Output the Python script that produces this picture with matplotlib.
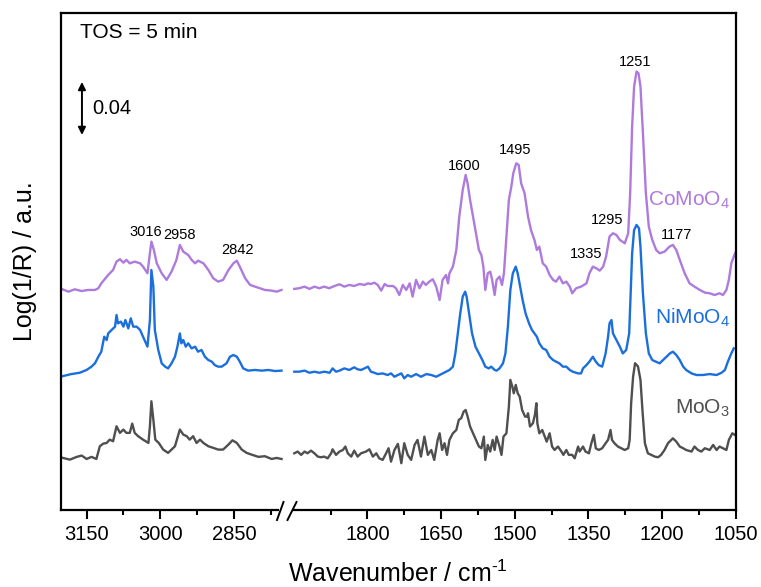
import numpy as np
import matplotlib.pyplot as plt
from matplotlib.lines import Line2D
from matplotlib.patches import Rectangle

plt.rcParams['font.family'] = ['Liberation Sans', 'DejaVu Sans']
plt.rcParams['mathtext.fontset'] = 'custom'
plt.rcParams['mathtext.rm'] = 'Liberation Sans'
plt.rcParams['mathtext.it'] = 'Liberation Sans:italic'
plt.rcParams['mathtext.default'] = 'regular'

# ---- spectra, wavenumber (cm-1) and signal above each baseline (1e-3 a.u.)
co_l_w = [3201, 3187, 3174, 3160, 3147, 3133, 3126, 3120, 3106, 3096, 3089, 3082, 3075, 3069, 3062,
          3052, 3041, 3035, 3026, 3021, 3018, 3013, 3007, 2997, 2987, 2977, 2967, 2960, 2953, 2943,
          2936, 2929, 2923, 2912, 2902, 2892, 2882, 2872, 2861, 2851, 2844, 2838, 2827, 2817, 2807,
          2797, 2787, 2773, 2763, 2753]
co_l_h = [0.8, -1.3, 0.5, -0.8, 0, 0, 1.3, 5.0, 11.3, 15.1, 21.4, 23.2, 20.6, 22.7, 20.1,
          21.4, 20.1, 17.6, 12.6, 27.7, 36.5, 30.2, 20.1, 12.6, 7.6, 13.8, 22.7, 34.0, 28.9, 26.4,
          22.7, 20.1, 22.1, 20.1, 15.1, 8.8, 6.3, 7.6, 15.1, 20.1, 22.1, 17.6, 8.8, 3.8, 2.5,
          1.3, 0, -0.5, -1.3, 0]
co_r_w = [1949, 1939, 1928, 1918, 1908, 1898, 1888, 1878, 1867, 1857, 1847, 1837, 1827, 1816, 1806,
          1799, 1793, 1786, 1779, 1772, 1765, 1759, 1748, 1742, 1735, 1728, 1721, 1714, 1708, 1701,
          1694, 1687, 1681, 1674, 1667, 1660, 1653,
          1647, 1640, 1636, 1633, 1626, 1619, 1613, 1606, 1600, 1596, 1591, 1585, 1579, 1573, 1568,
          1564, 1560, 1555, 1550, 1546, 1541, 1537, 1531, 1526, 1522, 1517, 1512, 1507, 1503, 1497,
          1492, 1487, 1480, 1473, 1467, 1460, 1455, 1450, 1443, 1436, 1429, 1422, 1416, 1409, 1402,
          1395, 1388, 1383, 1375, 1365, 1354,
          1348, 1341, 1334, 1327, 1320, 1314, 1307, 1300, 1293, 1286, 1276, 1269, 1265, 1261, 1257,
          1252, 1248, 1244, 1239, 1233, 1227, 1220, 1212, 1205, 1195, 1185, 1178, 1171, 1164, 1154,
          1144, 1134, 1123, 1113, 1103, 1093, 1083, 1076, 1069, 1064, 1059, 1054, 1051]
co_r_h = [0.8, 1.3, 2.5, 0.8, 2.5, 1.3, 2.5, 1.3, 3.0, 4.3, 2.5, 3.8, 3.0, 4.5, 3.8,
          5.0, 4.5, 5.5, 3.8, -0.5, 4.5, 3.0, 3.0, 1.3, -3.8, 3.8, 0, 5.0, -5.0, 7.6,
          1.3, 6.3, 3.8, 6.3, 8.1, 2.5, -7.6,
          7.6, 11.3, 5.0, 12.6, 17.6, 30.2, 55.4, 75.5, 86.8, 80.5, 68.0, 55.4, 42.8, 30.2, 26.4,
          17.6, 0, 12.6, 13.8, 7.6, -3.8, 7.6, 10.1, 3.8, 12.6, 40.3, 68.0, 78.0, 88.1, 95.6,
          94.4, 80.5, 73.0, 55.4, 45.3, 37.8, 30.2, 32.7, 20.1, 17.6, 11.3, 7.6, 6.3, 10.1, 5.0,
          6.3, 2.5, -2.5, 1.3, 2.5, 5.0,
          12.6, 17.6, 16.4, 14.6, 17.6, 25.2, 40.3, 42.8, 41.5, 37.8, 35.2, 42.8, 73.0, 123.3, 153.5,
          164.9, 163.6, 153.5, 118.3, 73.0, 47.8, 37.8, 30.2, 27.7, 28.9, 32.7, 34.0, 30.2, 22.7, 12.6,
          5.0, 2.5, 0, -2.0, -2.5, -3.8, -2.5, -3.8, 0, 7.6, 20.1, 25.2, 28.0]

ni_l_w = [3198, 3181, 3164, 3150, 3140, 3133, 3126, 3120, 3114, 3109, 3106, 3099, 3092, 3089, 3086,
          3080, 3075, 3071, 3065, 3060, 3055, 3048, 3041, 3035, 3026, 3021, 3018, 3014, 3011, 3004,
          2997, 2990, 2984, 2977, 2970, 2965, 2960, 2957, 2953, 2948, 2943, 2936, 2929, 2923, 2916,
          2909, 2902, 2895, 2889, 2882, 2875, 2865, 2858, 2851, 2844, 2838, 2831, 2821, 2807, 2793,
          2780, 2766, 2753]
ni_l_h = [-3.3, -1.8, -0.8, 1.3, 3.8, 6.3, 11.3, 15.1, 26.4, 23.9, 28.9, 31.5, 34.0, 42.8, 36.5,
          37.8, 34.0, 39.0, 32.7, 40.3, 34.0, 34.0, 31.5, 26.4, 18.9, 39.0, 76.8, 64.2, 31.5, 16.4,
          6.3, 3.8, 2.5, 6.3, 11.3, 18.9, 28.9, 21.4, 23.9, 18.9, 21.4, 17.6, 18.9, 15.1, 16.4,
          11.3, 8.8, 7.6, 5.0, 3.8, 3.8, 6.3, 11.3, 12.6, 11.3, 7.6, 2.5, 0.8, 1.3, 0.8,
          1.3, 0.5, 0.8]
ni_r_w = [1949, 1939, 1928, 1918, 1908, 1898, 1888, 1877, 1871, 1864, 1857, 1847, 1837, 1827, 1820,
          1813, 1806, 1799, 1793, 1786, 1779, 1769, 1759, 1752, 1745, 1738, 1731, 1725, 1718, 1711,
          1701, 1691, 1680, 1670, 1660,
          1653, 1647, 1640, 1633, 1626, 1621, 1616, 1611, 1606, 1601, 1598, 1592, 1587, 1580, 1573,
          1566, 1560, 1553, 1548, 1541, 1537, 1531, 1524, 1519, 1514, 1509, 1504, 1498, 1494, 1489,
          1484, 1478, 1471, 1465, 1460, 1455, 1450, 1443, 1436, 1429, 1422, 1416, 1409, 1402, 1395,
          1388, 1382, 1371, 1365,
          1361, 1354, 1348, 1341, 1335, 1329, 1322, 1315, 1310, 1307, 1303, 1300, 1293, 1286, 1280,
          1273, 1267, 1264, 1261, 1257, 1252, 1247, 1244, 1239, 1233, 1227, 1220, 1213, 1205, 1198,
          1191, 1184, 1178, 1171, 1164, 1157, 1151, 1140, 1130, 1117, 1103, 1089, 1079, 1072, 1066,
          1059, 1054]
ni_r_h = [0, 0, 0.8, -0.8, 0, -0.8, 0, -0.8, 2.5, 0, 0.8, 2.5, 1.3, 3.3, 1.8,
          1.3, 2.5, 3.8, 0, -0.8, -1.8, -1.3, -2.5, -1.3, -3.8, -2.5, -1.3, -5.0, -2.5, -3.8,
          -1.8, -3.8, -1.8, -2.5, -3.8,
          -2.5, -1.3, 0, 1.3, 3.8, 13.8, 28.9, 44.0, 56.6, 60.4, 56.6, 41.5, 28.9, 18.9, 13.8,
          8.8, 3.8, 2.5, 3.8, 1.3, 0.8, 2.5, 6.3, 13.8, 34.0, 61.6, 74.2, 79.3, 74.2, 64.2,
          54.1, 44.0, 36.5, 31.5, 28.9, 26.4, 21.4, 17.6, 16.4, 11.3, 8.8, 7.6, 6.3, 3.8, 3.8,
          1.3, 0, -1.3, -1.3,
          2.5, 5.0, 7.6, 11.3, 7.6, 5.0, 3.8, 13.8, 26.4, 36.5, 39.0, 28.9, 23.9, 18.9, 13.8,
          16.4, 28.9, 59.1, 89.3, 106.9, 110.8, 108.2, 94.4, 59.1, 28.9, 13.8, 8.8, 7.6, 6.3, 8.8,
          11.3, 13.8, 15.1, 12.6, 8.8, 3.8, 1.3, -1.3, -2.5, -2.5, -1.8, -2.5, -0.8, 1.3, 7.6,
          13.8, 17.6]

mo_l_w = [3198, 3184, 3170, 3160, 3150, 3140, 3130, 3123, 3116, 3109, 3103, 3096, 3089, 3082, 3075,
          3069, 3062, 3057, 3052, 3045, 3035, 3024, 3021, 3018, 3014, 3010, 3003, 2994, 2984, 2977,
          2970, 2960, 2953, 2946, 2940, 2933, 2926, 2919, 2912, 2902, 2892, 2882, 2872, 2861, 2853,
          2844, 2834, 2824, 2814, 2800, 2787, 2773, 2763, 2753]
mo_l_h = [0, -1.3, 0.8, 1.8, -0.8, 0.8, -0.8, 8.8, 10.8, 11.3, 13.8, 12.6, 23.9, 18.9, 21.4,
          18.9, 18.9, 25.9, 18.9, 16.4, 13.8, 11.3, 23.9, 42.8, 28.9, 13.8, 11.3, 6.3, 3.8, 6.3,
          8.8, 21.4, 17.6, 16.4, 13.8, 16.4, 11.3, 13.8, 11.3, 8.8, 7.6, 6.3, 6.3, 10.1, 13.3,
          11.3, 6.3, 3.8, 2.5, 0.8, 1.3, -0.8, 0, -0.8]
mo_r_w = [1949, 1942, 1935, 1928, 1922, 1915, 1908, 1901, 1895, 1888, 1881, 1874, 1871, 1864, 1857,
          1850, 1845, 1840, 1833, 1827, 1820, 1813, 1803, 1796, 1789, 1782, 1776, 1769, 1762, 1757,
          1752, 1745, 1738, 1731, 1725, 1718, 1711, 1704, 1698, 1691, 1684, 1677, 1670, 1664, 1657,
          1653, 1648, 1643, 1638, 1633, 1626, 1619, 1614, 1609, 1604, 1600, 1596, 1591, 1585, 1579,
          1573, 1568, 1563, 1560, 1555, 1550, 1545, 1541, 1537, 1531, 1527, 1523, 1517, 1512, 1509,
          1505, 1502, 1498, 1494, 1490, 1485, 1479, 1475, 1473, 1469, 1463, 1459, 1456, 1454, 1450,
          1444, 1439, 1435, 1429, 1424, 1419, 1412, 1405, 1401, 1395, 1390, 1383, 1378, 1371,
          1368, 1361, 1356, 1349, 1344, 1339, 1335, 1329, 1322, 1315, 1310, 1305, 1302, 1297, 1290,
          1283, 1276, 1269, 1266, 1263, 1259, 1255, 1249, 1244, 1240, 1235, 1229, 1222, 1215, 1208,
          1202, 1195, 1188, 1178, 1171, 1164, 1157, 1151, 1140, 1134, 1127, 1120, 1113, 1103, 1096,
          1089, 1083, 1076, 1069, 1064, 1057, 1052]
mo_r_h = [3.5, 4.8, 2.3, 4.8, 3.5, 5.5, 3.5, 1.0, 0.5, 1.0, -0.3, 3.5, 6.5, 2.3, 4.8,
          6.0, 8.6, 3.5, 1.0, 5.5, 1.0, 3.5, 4.8, 6.5, 1.0, 3.5, -0.3, -1.5, 3.5, 7.3,
          -2.8, 6.0, 10.6, -4.0, 11.1, 2.3, -1.5, 9.8, 13.6, 1.0, 16.1, 2.3, 6.0, -1.5, 13.6,
          18.6, 6.0, 11.1, 2.3, 13.6, 18.6, 21.1, 28.7, 30.0, 35.0, 36.2, 31.2, 23.7, 18.6, 13.6,
          8.6, 7.3, 16.1, -1.5, 9.8, 4.8, 13.6, 6.0, 16.1, 8.6, 2.3, 16.1, 18.6, 38.8, 58.9,
          53.9, 48.8, 55.1, 48.8, 46.3, 36.2, 31.2, 31.2, 33.7, 23.7, 26.2, 32.5, 41.3, 26.2, 18.6,
          21.1, 16.1, 12.3, 18.6, 8.6, 6.0, 8.6, 4.8, 2.3, 6.0, 2.3, 2.3, -0.3, 8.6,
          4.8, 8.6, 4.8, 3.5, 11.1, 17.4, 7.3, 6.0, 7.3, 11.1, 13.6, 21.1, 13.6, 11.1, 8.6,
          7.3, 6.0, 7.3, 13.6, 41.3, 61.4, 71.5, 69.0, 58.9, 36.2, 11.1, 3.5, 2.3, 1.0, 0.5,
          2.3, 6.0, 11.1, 14.8, 12.3, 8.6, 7.3, 6.0, 4.8, 8.6, 6.0, 4.8, 7.3, 6.0, 9.8,
          6.0, 8.6, 7.3, 6.0, 13.6, 18.6, 17.4]

names = ['CoMoO$_4$', 'NiMoO$_4$', 'MoO$_3$']
colors = ['#AE7BDD', '#1B6FDC', '#4F4F4F']
offsets = [0.1661, 0.1044, 0.0393]       # vertical stacking offsets (a.u.)
name_y = [0.2341, 0.1450, 0.0770]

peak_labels = ['3016', '2958', '2842', '1600', '1495', '1335', '1295', '1251', '1177']
peak_x = [3030, 2960, 2842, 1602, 1500, 1354, 1311, 1254, 1170]
peak_y = [0.2099, 0.2076, 0.1963, 0.2597, 0.2718, 0.1933, 0.2190, 0.3382, 0.2076]

major = [3150, 3000, 2850, 1800, 1650, 1500, 1350, 1200, 1050]
minor = [3075, 2925, 2775, 1875, 1725, 1575, 1425, 1275, 1125]

# axis break: 2741 ... 1963 cm-1 removed
CUT_HI = 2741
CUT_LO = 1963
SHIFT = CUT_HI - CUT_LO


def fwd(w):
    w = np.asarray(w, dtype=float)
    return np.where(w >= CUT_HI, w - SHIFT, np.minimum(w, CUT_LO))


def inv(x):
    x = np.asarray(x, dtype=float)
    return np.where(x > CUT_LO, x + SHIFT, x)


fig = plt.figure(figsize=(7.61, 5.87), dpi=100)
ax = fig.add_axes([0.0802, 0.1312, 0.8866, 0.8467])
ax.set_xscale('function', functions=(fwd, inv))

spectra = [(co_l_w, co_l_h, co_r_w, co_r_h),
           (ni_l_w, ni_l_h, ni_r_w, ni_r_h),
           (mo_l_w, mo_l_h, mo_r_w, mo_r_h)]
for (lw_, lh, rw, rh), c, off in zip(spectra, colors, offsets):
    ax.plot(lw_, np.array(lh) * 1e-3 + off, color=c, lw=1.7)
    ax.plot(rw, np.array(rh) * 1e-3 + off, color=c, lw=1.7)

for nm, c, yy in zip(names, colors, name_y):
    ax.text(0.992, yy, nm, color=c, fontsize=15, ha='right', va='center',
            transform=ax.get_yaxis_transform())

for t, xx, yy in zip(peak_labels, peak_x, peak_y):
    ax.text(xx, yy, t, fontsize=10.5, ha='center', va='center')

ax.text(0.028, 0.96, 'TOS = 5 min', fontsize=15, ha='left', va='center',
        transform=ax.transAxes)
ax.annotate('', xy=(0.031, 0.3231), xytext=(0.031, 0.2831),
            xycoords=('axes fraction', 'data'), textcoords=('axes fraction', 'data'),
            arrowprops=dict(arrowstyle='<|-|>', color='black', lw=1.4,
                            mutation_scale=11, shrinkA=0, shrinkB=0))
ax.text(0.046, 0.3031, '0.04', fontsize=14.5, ha='left', va='center',
        transform=ax.get_yaxis_transform())

ax.set_xlim(3202, 1050)
ax.set_ylim(0, 0.3752)
ax.set_xticks(major)
ax.set_xticklabels([str(m) for m in major])
ax.set_xticks(minor, minor=True)
ax.set_yticks([])
ax.tick_params(axis='x', which='major', direction='out', length=6.5, width=1.5,
               labelsize=14.5, pad=4)
ax.tick_params(axis='x', which='minor', direction='out', length=3.5, width=1.5)
for s in ax.spines.values():
    s.set_linewidth(1.6)

ax.set_xlabel('Wavenumber / cm$^{\\text{-}1}$', fontsize=18, labelpad=12)
ax.set_ylabel('Log(1/R) / a.u.', fontsize=18, labelpad=17)

# break marks on the bottom axis
W, H = 761.0, 587.0
fig.add_artist(Rectangle((279 / W, 1 - 515 / H), 14 / W, 10 / H, transform=fig.transFigure,
                         facecolor='white', edgecolor='none', zorder=5))
for x1, x2 in [(277, 283.5), (287.5, 296.5)]:
    fig.add_artist(Line2D([x1 / W, x2 / W], [1 - 520 / H, 1 - 502 / H],
                          transform=fig.transFigure, color='black', lw=1.4, zorder=6))

fig.savefig('out.png', dpi=100)
